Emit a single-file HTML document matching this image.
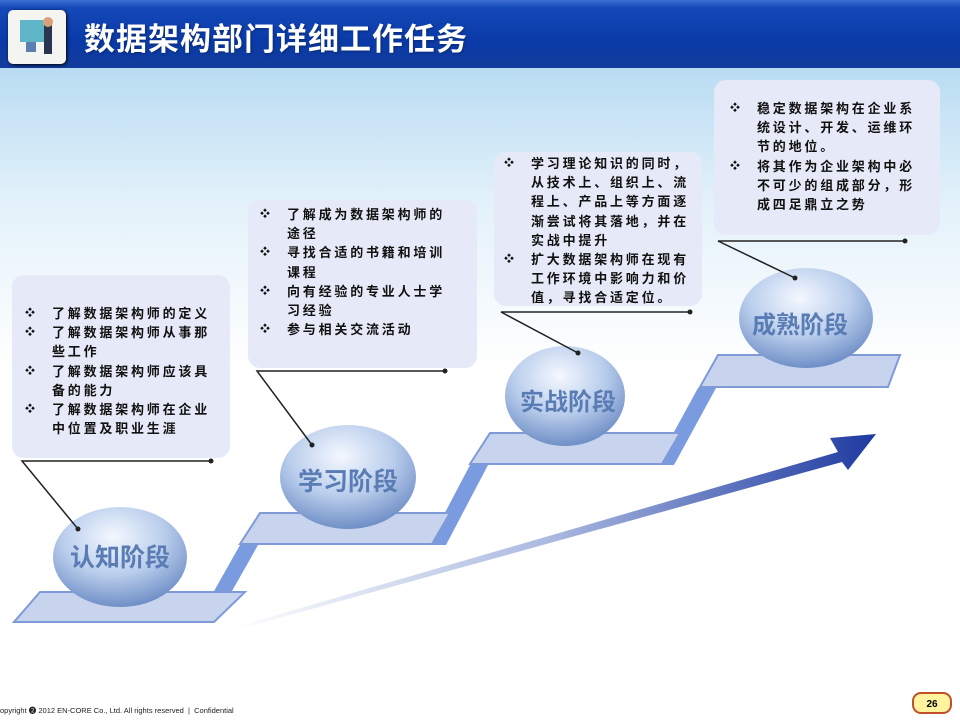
<!DOCTYPE html>
<html><head><meta charset="utf-8"><style>
body{margin:0;width:960px;height:720px;overflow:hidden;background:#fff;font-family:"Liberation Sans","Noto Sans CJK SC",sans-serif;position:relative}
.hdr{position:absolute;left:0;top:0;width:960px;height:68px;background:linear-gradient(#3d6fd0 0,#1448b8 12%,#0a3aa8 60%,#123c9c 100%)}
.bg{position:absolute;left:0;top:68px;width:960px;height:300px;background:linear-gradient(#b9dcf2,#e3f1fa 45%,#fff 100%)}
.ttl{position:absolute;left:84px;top:14px;color:#fff;font-size:31px;font-weight:bold;letter-spacing:1px;text-shadow:1px 1px 2px #0a2a70}
.icon{position:absolute;left:8px;top:10px;width:58px;height:54px;background:#f4f4f0;border-radius:5px;box-shadow:1px 1px 3px #000}
.box{position:absolute;background:#e6eaf8;border-radius:12px;font-size:13px;font-weight:bold;color:#111;line-height:19.2px;white-space:nowrap;letter-spacing:2.8px}
.box ul{margin:0;padding:0;list-style:none}
.box li{position:relative;padding-left:27px}
.box li:before{content:"❖";position:absolute;left:0;font-size:10px}
.foot{position:absolute;left:0;top:705px;font-size:7.5px;color:#222}
.pg{position:absolute;left:912px;top:692px;width:40px;height:22px;border:2px solid #c0502a;border-radius:9px;background:#fff3a0;font-size:10px;font-weight:bold;text-align:center;line-height:22px;box-sizing:border-box}
</style></head><body>
<div class="bg"></div>
<div class="hdr"></div>
<div class="icon"><svg width="58" height="54"><rect x="12" y="10" width="24" height="22" fill="#5fb6c8"/><rect x="18" y="32" width="10" height="10" fill="#5a7fb0"/><rect x="36" y="14" width="8" height="30" fill="#2b3550"/><circle cx="40" cy="12" r="5" fill="#d9a27a"/></svg></div>
<div class="ttl">数据架构部门详细工作任务</div>

<svg style="position:absolute;left:0;top:0" width="960" height="720">
<defs>
<radialGradient id="o" cx="0.45" cy="0.3" r="0.7"><stop offset="0" stop-color="#f4f8ff"/><stop offset="0.55" stop-color="#b9cdec"/><stop offset="1" stop-color="#6f8fc6"/></radialGradient>
<linearGradient id="ar" x1="0" y1="0" x2="1" y2="0"><stop offset="0" stop-color="#fff"/><stop offset="0.5" stop-color="#a9b8e0"/><stop offset="1" stop-color="#1e3aa0"/></linearGradient>
</defs>
<g fill="#7b9be0">
<polygon points="196,623 214,623 258,545 240,545"/>
<polygon points="428,545 446,545 488,465 470,465"/>
<polygon points="656,465 674,465 716,388 698,388"/>
</g>
<g fill="#c8d3ee" stroke="#7e9bd8" stroke-width="2">
<polygon points="40,592 245,592 214,622 14,622"/>
<polygon points="260,513 450,513 432,544 240,544"/>
<polygon points="490,433 680,433 662,464 470,464"/>
<polygon points="718,355 900,355 888,387 700,387"/>
</g>
<polygon points="232,628 838,452 830,438 876,434 848,470 842,462 236,630" fill="url(#ar)"/>
<ellipse cx="120" cy="557" rx="67" ry="50" fill="url(#o)"/>
<ellipse cx="348" cy="477" rx="68" ry="52" fill="url(#o)"/>
<ellipse cx="565" cy="396" rx="60" ry="50" fill="url(#o)"/>
<ellipse cx="806" cy="318" rx="67" ry="50" fill="url(#o)"/>
<g font-family="Liberation Sans,Noto Sans CJK SC,sans-serif" font-weight="bold" fill="#5a7cb4" text-anchor="middle">
<text x="120" y="566" font-size="25">认知阶段</text>
<text x="348" y="490" font-size="25">学习阶段</text>
<text x="568" y="410" font-size="24">实战阶段</text>
<text x="800" y="333" font-size="24">成熟阶段</text>
</g>
</svg>

<div class="box" style="left:12px;top:275px;width:218px;height:183px"><ul style="padding:29px 0 0 13px">
<li>了解数据架构师的定义</li><li>了解数据架构师从事那<br>些工作</li><li>了解数据架构师应该具<br>备的能力</li><li>了解数据架构师在企业<br>中位置及职业生涯</li></ul></div>
<div class="box" style="left:248px;top:200px;width:229px;height:168px"><ul style="padding:5px 0 0 12px">
<li>了解成为数据架构师的<br>途径</li><li>寻找合适的书籍和培训<br>课程</li><li>向有经验的专业人士学<br>习经验</li><li>参与相关交流活动</li></ul></div>
<div class="box" style="left:494px;top:152px;width:208px;height:154px"><ul style="padding:2px 0 0 10px">
<li>学习理论知识的同时，<br>从技术上、组织上、流<br>程上、产品上等方面逐<br>渐尝试将其落地，并在<br>实战中提升</li><li>扩大数据架构师在现有<br>工作环境中影响力和价<br>值，寻找合适定位。</li></ul></div>
<div class="box" style="left:714px;top:80px;width:226px;height:155px"><ul style="padding:19px 0 0 16px">
<li>稳定数据架构在企业系<br>统设计、开发、运维环<br>节的地位。</li><li>将其作为企业架构中必<br>不可少的组成部分，形<br>成四足鼎立之势</li></ul></div>

<svg style="position:absolute;left:0;top:0" width="960" height="720">
<g stroke="#222" stroke-width="1.5" fill="none">
<polyline points="211,461 22,461 78,529"/>
<polyline points="445,371 257,371 312,445"/>
<polyline points="690,312 501,312 578,353"/>
<polyline points="905,241 718,241 795,278"/>
</g>
<g fill="#222"><circle cx="211" cy="461" r="2.5"/><circle cx="78" cy="529" r="2.5"/><circle cx="445" cy="371" r="2.5"/><circle cx="312" cy="445" r="2.5"/><circle cx="690" cy="312" r="2.5"/><circle cx="578" cy="353" r="2.5"/><circle cx="905" cy="241" r="2.5"/><circle cx="795" cy="278" r="2.5"/></g>
</svg>

<div class="foot">opyright ❷ 2012 EN-CORE Co., Ltd. All rights reserved &nbsp;|&nbsp; Confidential</div>
<div class="pg">26</div>
</body></html>
